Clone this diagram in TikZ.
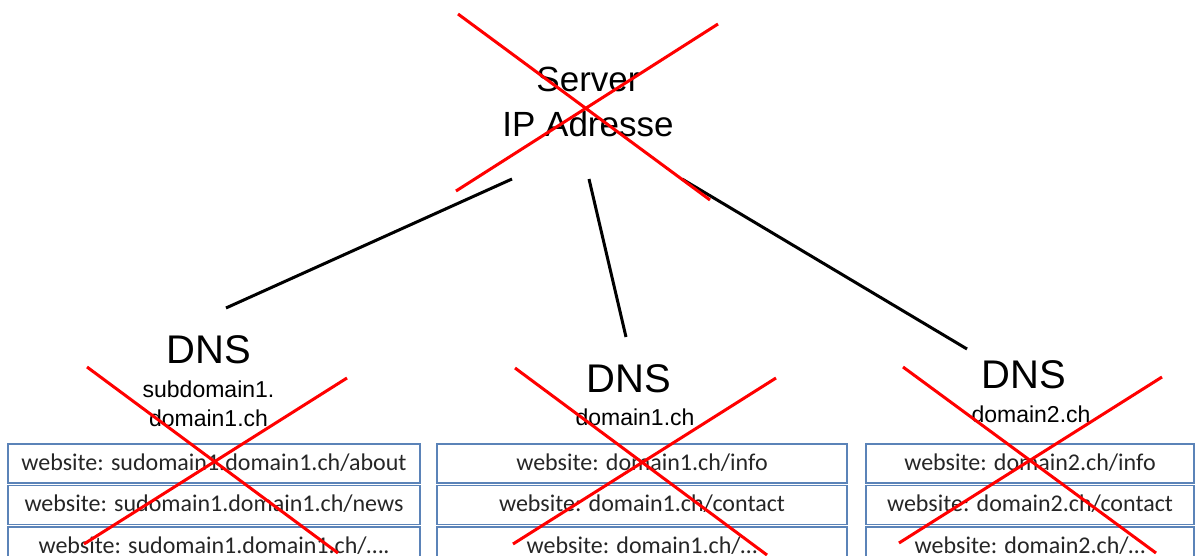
\documentclass[tikz,border=0pt]{standalone}
\usepackage{fontspec}
\setmainfont{Liberation Sans}
\newfontfamily\cellfont{Carlito}
\usetikzlibrary{positioning}
\definecolor{cellblue}{RGB}{91,131,184}
\definecolor{celltext}{RGB}{38,38,38}

\begin{document}
\begin{tikzpicture}[x=1pt,y=-1pt,node distance=1pt,
    title/.style={inner sep=0pt,anchor=base,font=\fontsize{40}{48}\selectfont},
    sub/.style={inner sep=0pt,align=center,font=\fontsize{23}{29}\selectfont},
    cell/.style={draw=cellblue,line width=1.5pt,inner sep=0pt,minimum height=39pt,
      text height=17pt,text depth=3pt,text=celltext,font=\cellfont\fontsize{24}{28}\selectfont},
    link/.style={line width=3pt},
    cross/.style={draw=red,line width=3pt}]
  \useasboundingbox (0,0) rectangle (1197,556);

  \node[align=center,inner sep=0pt,font=\fontsize{35}{45}\selectfont] (Server) at (588,102) {Server\\IP Adresse};

  \node[title] (DnsA) at (208.5,363) {DNS};
  \node[title] (DnsB) at (629,392)   {DNS};
  \node[title] (DnsC) at (1024,388)  {DNS};
  \node[sub,anchor=north] (SubA) at (208.5,381) {subdomain1.\\domain1.ch};
  \node[sub,anchor=base]  (SubB) at (635,425)   {domain1.ch};
  \node[sub,anchor=base]  (SubC) at (1031,422)  {domain2.ch};

  % websites
  \node[cell,minimum width=412pt,anchor=north] (WebA1) at (214,443) {website: sudomain1.domain1.ch/about};
  \node[cell,minimum width=412pt] (WebA2) [below=of WebA1] {website: sudomain1.domain1.ch/news};
  \node[cell,minimum width=412pt] (WebA3) [below=of WebA2] {website: sudomain1.domain1.ch/….};
  \node[cell,minimum width=410pt,anchor=north] (WebB1) at (642,443) {website: domain1.ch/info};
  \node[cell,minimum width=410pt] (WebB2) [below=of WebB1] {website: domain1.ch/contact};
  \node[cell,minimum width=410pt] (WebB3) [below=of WebB2] {website: domain1.ch/…};
  \node[cell,minimum width=328pt,anchor=north] (WebC1) at (1030,443) {website: domain2.ch/info};
  \node[cell,minimum width=328pt] (WebC2) [below=of WebC1] {website: domain2.ch/contact};
  \node[cell,minimum width=328pt] (WebC3) [below=of WebC2] {website: domain2.ch/…};

  \coordinate (ServerL) at (512,179);
  \coordinate (ServerM) at (589,179);
  \coordinate (ServerR) at (682,179);
  \coordinate (DnsATop) at (226,308);
  \coordinate (DnsBTop) at (626,337);
  \coordinate (DnsCTop) at (967,349);

  \path[link]
    (ServerL) edge (DnsATop)
    (ServerM) edge (DnsBTop)
    (ServerR) edge (DnsCTop);

  % crossed out
  \draw[cross] (458,14) -- (710,200) (718,24) -- (456,191);
  \draw[cross] (87,367) -- (338,553) (347,378) -- (84,544);
  \draw[cross] (515,368) -- (767,555) (776,378) -- (513,544);
  \draw[cross] (903,367) -- (1156,553) (1162,377) -- (899,543);
\end{tikzpicture}
\end{document}
